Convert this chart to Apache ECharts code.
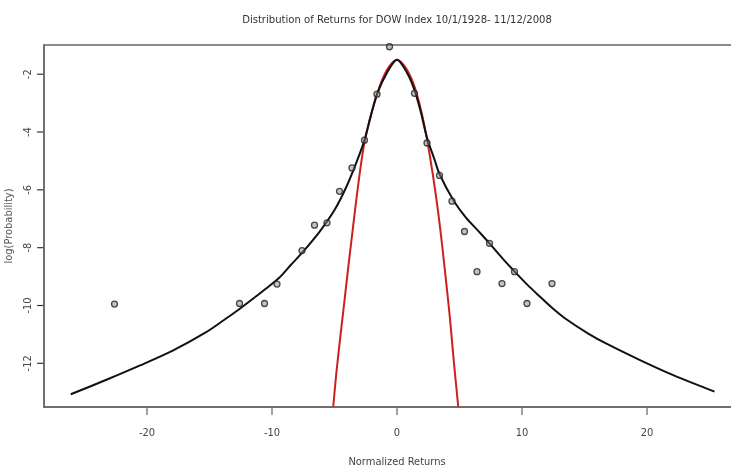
<!DOCTYPE html>
<html>
<head>
<meta charset="utf-8">
<script src="https://cdn.jsdelivr.net/npm/echarts@6/dist/echarts.min.js"></script>
<style>
html,body{margin:0;padding:0;background:#fff;}
#c{width:731px;height:469px;}
</style>
</head>
<body>
<div id="c"></div>
<script>
const titleText = 'Distribution of Returns for DOW Index 10/1/1928- 11/12/2008';
const xName = 'Normalized Returns';
const yName = 'log(Probability)';
const xTicks = [-20, -10, 0, 10, 20];
const yTicks = [-12, -10, -8, -6, -4, -2];

// observed binned log-probabilities (circles)
const pointX = [-22.6, -12.6, -10.6, -9.6, -7.6, -6.6, -5.6, -4.6, -3.6, -2.6, -1.6, -0.6,
                1.4, 2.4, 3.4, 4.4, 5.4, 6.4, 7.4, 8.4, 9.4, 10.4, 12.4];
const pointY = [-9.95, -9.93, -9.93, -9.26, -8.10, -7.22, -7.14, -6.05, -5.24, -4.28, -2.69, -1.05,
                -2.66, -4.38, -5.50, -6.39, -7.44, -8.83, -7.85, -9.24, -8.83, -9.93, -9.24];

// heavy-tailed fit (black curve)
const fitX = [-26.1, -23.2, -20.6, -17.9, -15.3, -13.9, -12.6, -11.5, -10.5, -9.4, -8.5, -7.6, -6.2, -5.0, -4.0, -3.2, -2.6, -2.1, -1.6, -0.8, 0,
              0.8, 1.4, 1.9, 2.4, 3.0, 3.4, 4.5, 5.5, 6.5, 7.4, 8.4, 9.4, 10.4, 11.4, 12.4, 13.4, 15.3, 16.8, 19.4, 22.1, 25.4];
const fitY = [-13.07, -12.56, -12.08, -11.55, -10.93, -10.52, -10.12, -9.76, -9.42, -9.03, -8.6, -8.18, -7.45, -6.7, -5.85, -5.0, -4.28, -3.45, -2.69, -1.95, -1.5,
              -1.95, -2.55, -3.3, -4.2, -4.95, -5.45, -6.35, -6.95, -7.42, -7.85, -8.35, -8.82, -9.27, -9.68, -10.08, -10.43, -10.97, -11.33, -11.88, -12.41, -12.98];

// normal fit (red curve)
const normX = [-5.1, -4.82, -4.3, -3.44, -2.6, -1.6, -0.8, 0, 0.8, 1.6, 2.4, 3.3, 4.18, 4.56, 4.9];
const normY = [-13.5, -12.2, -10.2, -7.0, -4.35, -2.7, -1.85, -1.5, -1.85, -2.7, -4.25, -6.8, -10.2, -12.0, -13.5];

const Y_MIN = -13.51, Y_MAX = -0.99, X_MIN = -28.24, X_MAX = 28.24;

const zip = (a, b) => a.map((v, i) => [v, b[i]]);
const FONT = '"Liberation Sans Narrow", "DejaVu Sans Condensed", "Liberation Sans", sans-serif';

const chart = echarts.init(document.getElementById('c'), null, {renderer: 'canvas'});
chart.setOption({
  backgroundColor: '#fff',
  animation: false,
  title: {
    text: titleText,
    left: 392,
    top: 10,
    textAlign: 'center',
    textStyle: {fontFamily: FONT, fontSize: 11.2, fontWeight: 'normal', color: '#333'}
  },
  grid: {
    left: 44, right: -19, top: 45, bottom: 62,
    outerBoundsMode: 'none',
    containLabel: false,
    show: true, borderColor: '#666', borderWidth: 1.5, backgroundColor: 'transparent'
  },
  xAxis: {
    type: 'value',
    min: X_MIN, max: X_MAX,
    name: xName,
    nameLocation: 'middle',
    nameGap: 50,
    nameTextStyle: {fontFamily: FONT, fontSize: 11, color: '#444'},
    axisLine: {show: true, onZero: false, lineStyle: {color: '#666', width: 1.5}},
    splitLine: {show: false},
    axisTick: {show: false},
    axisLabel: {customValues: xTicks, margin: 21, fontFamily: FONT, fontSize: 11, color: '#444'}
  },
  yAxis: {
    type: 'value',
    min: Y_MIN, max: Y_MAX,
    name: yName,
    nameLocation: 'middle',
    nameGap: 28,
    nameTextStyle: {fontFamily: FONT, fontSize: 11, color: '#555'},
    axisLine: {show: true, onZero: false, lineStyle: {color: '#666', width: 1.5}},
    splitLine: {show: false},
    axisTick: {show: false},
    axisLabel: {customValues: yTicks, rotate: 90, margin: 10, fontFamily: FONT, fontSize: 11, color: '#444'}
  },
  series: [
    {
      // x-axis tick marks (outward, R style)
      type: 'custom', clip: false, silent: true, z: 1,
      data: xTicks.map(v => [v, Y_MIN]),
      renderItem: (params, api) => {
        const p = api.coord([api.value(0), api.value(1)]);
        return {type: 'line', shape: {x1: p[0], y1: p[1] + 1, x2: p[0], y2: p[1] + 8},
                style: {stroke: '#444', lineWidth: 1}};
      }
    },
    {
      // y-axis tick marks
      type: 'custom', clip: false, silent: true, z: 1,
      data: yTicks.map(v => [X_MIN + 0.01, v]),
      renderItem: (params, api) => {
        const p = api.coord([api.value(0), api.value(1)]);
        return {type: 'line', shape: {x1: p[0] - 1, y1: p[1], x2: p[0] - 7, y2: p[1]},
                style: {stroke: '#333', lineWidth: 1.2}};
      }
    },
    {
      type: 'line', data: zip(normX, normY), smooth: 0.3, showSymbol: false, clip: true,
      lineStyle: {color: '#cc2020', width: 2}, z: 2
    },
    {
      type: 'line', data: zip(fitX, fitY), smooth: 0.3, showSymbol: false, clip: true,
      lineStyle: {color: '#111', width: 2}, z: 3
    },
    {
      type: 'scatter', data: zip(pointX, pointY), symbol: 'circle', symbolSize: 6,
      itemStyle: {color: 'rgba(130,130,130,0.6)', borderColor: '#222', borderWidth: 1.3}, z: 4
    }
  ]
});
</script>
</body>
</html>
